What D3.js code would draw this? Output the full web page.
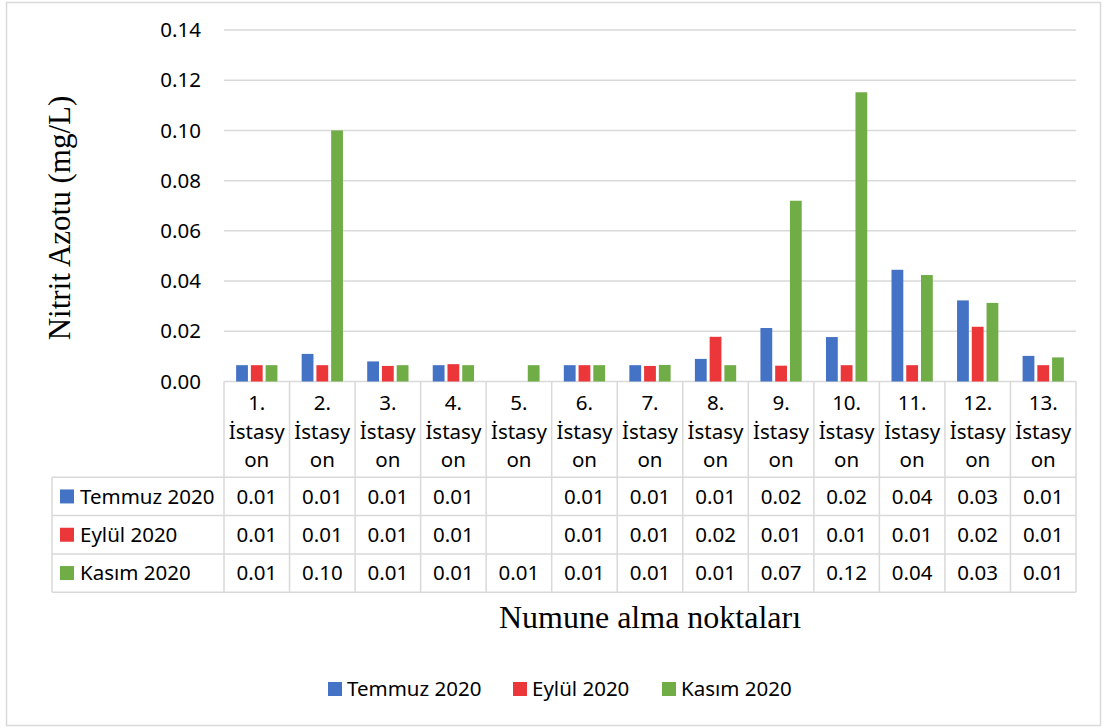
<!DOCTYPE html>
<html>
<head>
<meta charset="utf-8">
<script src="https://cdn.jsdelivr.net/npm/d3@7"></script>
<style>
  body { margin: 0; background: #fff; }
  text { font-family: "Noto Sans", "Open Sans", sans-serif; fill: #000; }
  .serif { font-family: "Liberation Serif", "DejaVu Serif", serif; }
</style>
</head>
<body>
<div id="container"></div>
<script>
/* DATA */
const stations = ["1.", "2.", "3.", "4.", "5.", "6.", "7.", "8.", "9.", "10.", "11.", "12.", "13."];
const seriesNames = ["Temmuz 2020", "Eylül 2020", "Kasım 2020"];
const seriesColors = ["#4472C4", "#EC373A", "#70AD47"];
const temmuz = [0.0065, 0.011, 0.008, 0.0065, null, 0.0065, 0.0065, 0.009, 0.0213, 0.0177, 0.0445, 0.0323, 0.0102];
const eylul  = [0.0065, 0.0065, 0.0062, 0.0069, null, 0.0065, 0.0062, 0.0178, 0.0063, 0.0065, 0.0065, 0.0218, 0.0065];
const kasim  = [0.0065, 0.100, 0.0065, 0.0065, 0.0065, 0.0065, 0.0066, 0.0065, 0.072, 0.1152, 0.0424, 0.0313, 0.0096];
const yTicks = [0, 0.02, 0.04, 0.06, 0.08, 0.10, 0.12, 0.14];
const yTitle = "Nitrit Azotu (mg/L)";
const xTitle = "Numune alma noktaları";

const series = [temmuz, eylul, kasim];

/* CONSTANTS */
const width = 1107, height = 728;
const plot = { left: 224, right: 1076, top: 30, bottom: 381.5 };
const tableLeft = 52;
const headerBottom = 477.3, rowH = 38.3;
const fs = "20.5px";

const svg = d3.select("#container").append("svg")
  .attr("width", width).attr("height", height);

// chart frame
svg.append("rect")
  .attr("x", 6.5).attr("y", 2.5).attr("width", 1094).attr("height", 723)
  .attr("fill", "#fff").attr("stroke", "#d9d9d9").attr("stroke-width", 1.5);

/* SCALES */
const x0 = d3.scaleBand().domain(stations).range([plot.left, plot.right])
  .paddingInner(0.37).paddingOuter(0.185);
const xCat = d3.scaleBand().domain(stations).range([plot.left, plot.right]);
const x1 = d3.scaleBand().domain(seriesNames).range([0, x0.bandwidth()]).paddingInner(0.2);
const y = d3.scaleLinear().domain([0, 0.14]).range([plot.bottom, plot.top]);
const fmt = d3.format(".2f");

// gridlines
svg.append("g").selectAll("line").data(yTicks).join("line")
  .attr("x1", plot.left).attr("x2", plot.right)
  .attr("y1", d => y(d)).attr("y2", d => y(d))
  .attr("stroke", "#d9d9d9").attr("stroke-width", 1.5);

// y tick labels
svg.append("g").selectAll("text").data(yTicks).join("text")
  .attr("x", 201).attr("y", d => y(d))
  .attr("dy", "0.35em").attr("text-anchor", "end")
  .style("font-size", fs)
  .text(d => fmt(d));

// bars
const groups = svg.append("g").selectAll("g").data(stations).join("g")
  .attr("transform", d => `translate(${x0(d)},0)`);
groups.selectAll("rect")
  .data((d, i) => seriesNames.map((s, j) => ({ s, j, v: series[j][i] })).filter(e => e.v != null))
  .join("rect")
  .attr("x", d => x1(d.s))
  .attr("width", x1.bandwidth())
  .attr("y", d => y(d.v))
  .attr("height", d => y(0) - y(d.v))
  .attr("fill", d => seriesColors[d.j]);

/* DATA TABLE */
const tableBottom = headerBottom + rowH * 3;
const grid = svg.append("g").attr("stroke", "#d9d9d9").attr("stroke-width", 1.5);
// vertical lines at category boundaries
const bounds = stations.map(s => xCat(s)).concat([plot.right]);
grid.selectAll("line.v").data(bounds).join("line").attr("class", "v")
  .attr("x1", d => d).attr("x2", d => d)
  .attr("y1", plot.bottom).attr("y2", tableBottom);
// horizontal rows
const rowLines = [0, 1, 2, 3].map(i => headerBottom + rowH * i);
grid.selectAll("line.h").data(rowLines).join("line").attr("class", "h")
  .attr("x1", tableLeft).attr("x2", plot.right)
  .attr("y1", d => d).attr("y2", d => d);
grid.append("line")
  .attr("x1", tableLeft).attr("x2", tableLeft)
  .attr("y1", headerBottom).attr("y2", tableBottom);

// header labels
const hdr = svg.append("g").selectAll("text").data(stations).join("text")
  .attr("text-anchor", "middle")
  .style("font-size", fs);
hdr.selectAll("tspan").data(d => [d, "İstasy", "on"]).join("tspan")
  .attr("x", function() { const s = d3.select(this.parentNode).datum(); return xCat(s) + xCat.bandwidth() / 2; })
  .attr("y", (d, i) => 410 + i * 28.5)
  .text(d => d);

// row legends and values
seriesNames.forEach((name, j) => {
  const cy = headerBottom + rowH * j + rowH / 2;
  svg.append("rect")
    .attr("x", 60).attr("y", cy - 7).attr("width", 14).attr("height", 14)
    .attr("fill", seriesColors[j]);
  svg.append("text")
    .attr("x", 80).attr("y", cy).attr("dy", "0.35em")
    .style("font-size", fs)
    .text(name);
  svg.append("g").selectAll("text").data(stations).join("text")
    .attr("x", d => xCat(d) + xCat.bandwidth() / 2)
    .attr("y", cy).attr("dy", "0.35em")
    .attr("text-anchor", "middle")
    .style("font-size", fs)
    .text((d, i) => series[j][i] == null ? "" : fmt(series[j][i]));
});

/* AXIS TITLES */
svg.append("text").attr("class", "serif")
  .attr("transform", "translate(70,218) rotate(-90)")
  .attr("text-anchor", "middle")
  .style("font-size", "31px")
  .text(yTitle);
svg.append("text").attr("class", "serif")
  .attr("x", 650).attr("y", 628)
  .attr("text-anchor", "middle")
  .style("font-size", "32px")
  .text(xTitle);

/* LEGEND */
const legX = [328, 513, 662];
const leg = svg.append("g").selectAll("g").data(seriesNames).join("g")
  .attr("transform", (d, i) => `translate(${legX[i]},689)`);
leg.append("rect").attr("x", 0).attr("y", -7).attr("width", 14).attr("height", 14)
  .attr("fill", (d, i) => seriesColors[i]);
leg.append("text").attr("x", 19).attr("dy", "0.35em")
  .style("font-size", fs)
  .text(d => d);
</script>
</body>
</html>
